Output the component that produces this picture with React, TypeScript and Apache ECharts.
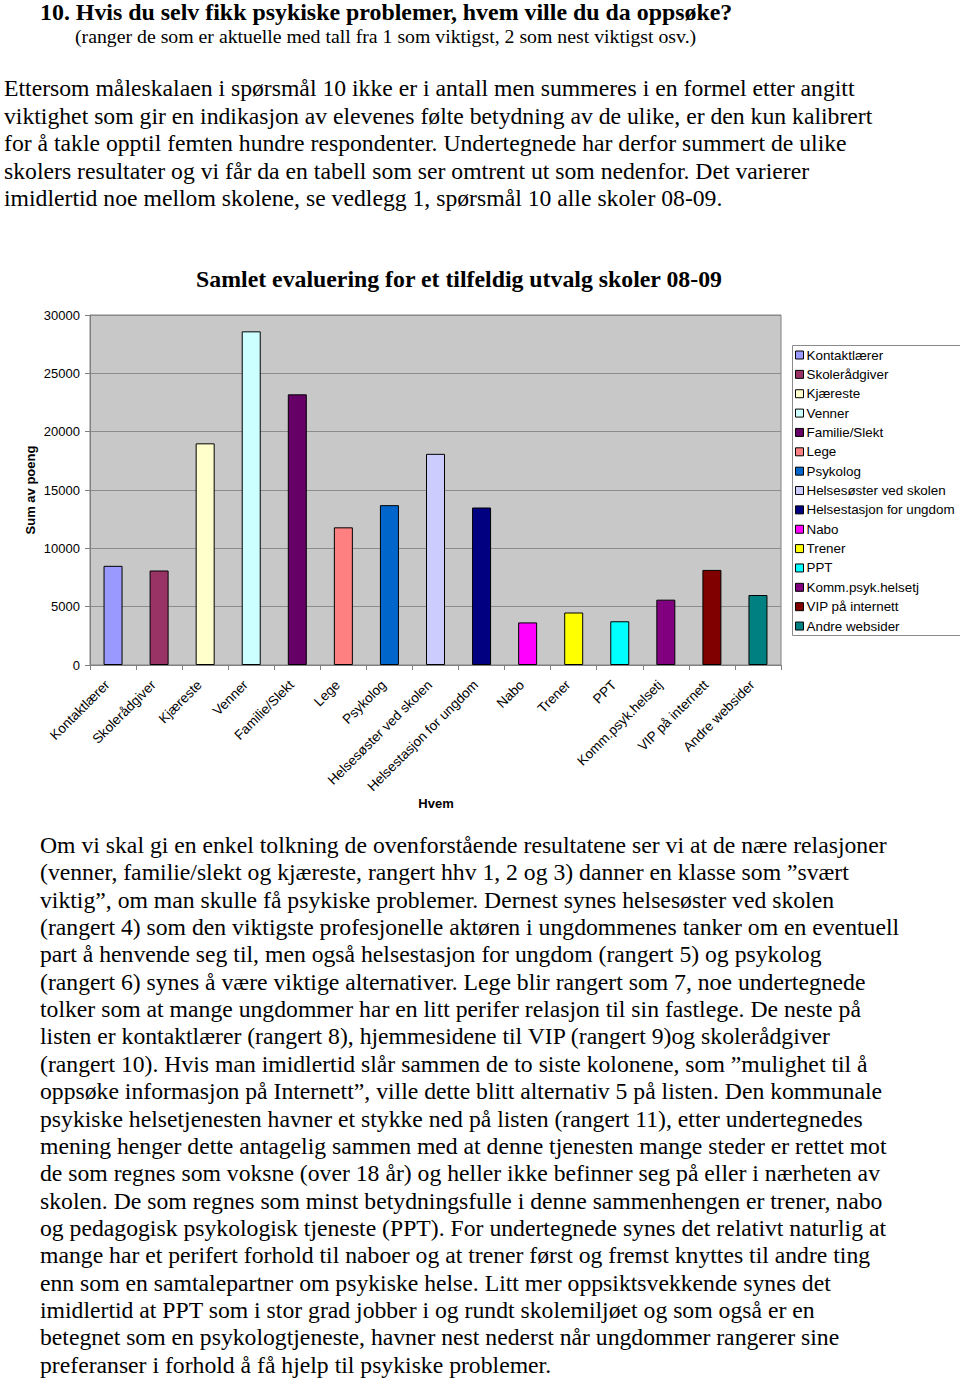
import React, { useEffect, useRef } from "react";
import * as echarts from "echarts";

const headingText = "10. Hvis du selv fikk psykiske problemer, hvem ville du da oppsøke?";
const subText = "(ranger de som er aktuelle med tall fra 1 som viktigst, 2 som nest viktigst osv.)";
const introLines = [
  "Ettersom måleskalaen i spørsmål 10 ikke er i antall men summeres i en formel etter angitt",
  "viktighet som gir en indikasjon av elevenes følte betydning av de ulike, er den kun kalibrert",
  "for å takle opptil femten hundre respondenter. Undertegnede har derfor summert de ulike",
  "skolers resultater og vi får da en tabell som ser omtrent ut som nedenfor. Det varierer",
  "imidlertid noe mellom skolene, se vedlegg 1, spørsmål 10 alle skoler 08-09.",
];
const commentLines = [
  "Om vi skal gi en enkel tolkning de ovenforstående resultatene ser vi at de nære relasjoner",
  "(venner, familie/slekt og kjæreste, rangert hhv 1, 2 og 3) danner en klasse som ”svært",
  "viktig”, om man skulle få psykiske problemer. Dernest synes helsesøster ved skolen",
  "(rangert 4) som den viktigste profesjonelle aktøren i ungdommenes tanker om en eventuell",
  "part å henvende seg til, men også helsestasjon for ungdom (rangert 5) og psykolog",
  "(rangert 6) synes å være viktige alternativer. Lege blir rangert som 7, noe undertegnede",
  "tolker som at mange ungdommer har en litt perifer relasjon til sin fastlege. De neste på",
  "listen er kontaktlærer (rangert 8), hjemmesidene til VIP (rangert 9)og skolerådgiver",
  "(rangert 10). Hvis man imidlertid slår sammen de to siste kolonene, som ”mulighet til å",
  "oppsøke informasjon på Internett”, ville dette blitt alternativ 5 på listen. Den kommunale",
  "psykiske helsetjenesten havner et stykke ned på listen (rangert 11), etter undertegnedes",
  "mening henger dette antagelig sammen med at denne tjenesten mange steder er rettet mot",
  "de som regnes som voksne (over 18 år) og heller ikke befinner seg på eller i nærheten av",
  "skolen. De som regnes som minst betydningsfulle i denne sammenhengen er trener, nabo",
  "og pedagogisk psykologisk tjeneste (PPT). For undertegnede synes det relativt naturlig at",
  "mange har et perifert forhold til naboer og at trener først og fremst knyttes til andre ting",
  "enn som en samtalepartner om psykiske helse. Litt mer oppsiktsvekkende synes det",
  "imidlertid at PPT som i stor grad jobber i og rundt skolemiljøet og som også er en",
  "betegnet som en psykologtjeneste, havner nest nederst når ungdommer rangerer sine",
  "preferanser i forhold å få hjelp til psykiske problemer.",
];

const chartTitle = "Samlet evaluering for et tilfeldig utvalg skoler 08-09";
const yAxisName = "Sum av poeng";
const xAxisName = "Hvem";

const categories = [
  "Kontaktlærer",
  "Skolerådgiver",
  "Kjæreste",
  "Venner",
  "Familie/Slekt",
  "Lege",
  "Psykolog",
  "Helsesøster ved skolen",
  "Helsestasjon for ungdom",
  "Nabo",
  "Trener",
  "PPT",
  "Komm.psyk.helsetj",
  "VIP på internett",
  "Andre websider",
];
const values = [8500, 8100, 19000, 28600, 23200, 11800, 13700, 18100, 13500, 3650, 4500, 3750, 5600, 8150, 6000];
const colors = [
  "#9999ff", "#993366", "#ffffcc", "#ccffff", "#660066", "#ff8080", "#0066cc", "#ccccff",
  "#000080", "#ff00ff", "#ffff00", "#00ffff", "#800080", "#800000", "#008080",
];
const yTicks = { min: 0, max: 30000, interval: 5000 };

const SERIF = '"Liberation Serif", "Times New Roman", serif';
const SANS = '"Liberation Sans", Arial, sans-serif';

export default function App() {
  const ref = useRef<HTMLDivElement>(null);
  useEffect(() => {
    if (!ref.current) return;
    const chart = echarts.init(ref.current, null, { renderer: "svg" });
    const textEl = (text: string, x: number, y: number, font: string, extra: any = {}) => ({
      type: "text",
      x,
      y,
      silent: true,
      ...extra,
      style: { text, font, fill: "#000", textVerticalAlign: "middle", textAlign: "left", ...(extra.style || {}) },
    });
    const graphics: any[] = [];
    graphics.push(textEl(headingText, 40, 12, `bold 23.9px ${SERIF}`));
    graphics.push(textEl(subText, 75, 36, `19.8px ${SERIF}`));
    introLines.forEach((l, i) => graphics.push(textEl(l, 4, 88 + i * 27.5, `23.7px ${SERIF}`)));
    commentLines.forEach((l, i) => graphics.push(textEl(l, 40, 845 + i * 27.35, `23.7px ${SERIF}`)));
    graphics.push(textEl(chartTitle, 459, 279, `bold 23.8px ${SERIF}`, { style: { textAlign: "center" } }));
    graphics.push(
      textEl(yAxisName, 30, 490, `bold 13px ${SANS}`, { rotation: Math.PI / 2, style: { textAlign: "center" } })
    );
    graphics.push(textEl(xAxisName, 436, 803, `bold 13px ${SANS}`, { style: { textAlign: "center" } }));
    graphics.push({
      type: "rect",
      z: -1,
      shape: { x: 792.5, y: 345.5, width: 170, height: 290 },
      style: { fill: "#fff", stroke: "#8a8a8a", lineWidth: 1 },
    });

    const series = categories.map((name, i) => ({
      name,
      type: "bar",
      stack: "all",
      barWidth: 19,
      data: values.map((v, j) => (j === i ? v : "-")),
      itemStyle: { color: colors[i], borderColor: "#000", borderWidth: 1 },
    }));

    chart.setOption({
      animation: false,
      backgroundColor: "#fff",
      graphic: graphics,
      grid: {
        left: 90,
        top: 315,
        width: 691,
        height: 350,
        show: true,
        backgroundColor: "#c8c8c8",
        borderColor: "#808080",
        borderWidth: 1,
      },
      legend: {
        orient: "vertical",
        left: 795,
        top: 348,
        padding: 0,
        icon: "rect",
        itemWidth: 8,
        itemHeight: 8,
        itemGap: 5.36,
        textStyle: { fontSize: 13.4, lineHeight: 14, color: "#000", fontFamily: SANS, padding: [0, 0, 0, -2] },
        itemStyle: { borderColor: "#000", borderWidth: 1 },
        data: categories,
      },
      xAxis: {
        type: "category",
        data: categories,
        axisLine: { lineStyle: { color: "#808080" } },
        axisTick: { show: true, length: 5, lineStyle: { color: "#808080" } },
        axisLabel: {
          rotate: 45,
          interval: 0,
          fontSize: 13.6,
          color: "#000",
          fontFamily: SANS,
          margin: 12,
          padding: [0, 8, 0, 0],
        },
      },
      yAxis: {
        type: "value",
        min: yTicks.min,
        max: yTicks.max,
        interval: yTicks.interval,
        axisLine: { show: true, lineStyle: { color: "#808080" } },
        axisTick: { show: true, length: 5, lineStyle: { color: "#808080" } },
        axisLabel: { fontSize: 13, color: "#000", fontFamily: SANS, margin: 10, formatter: (v: number) => String(v) },
        splitLine: { lineStyle: { color: "#8c8c8c" } },
      },
      series,
    });
    return () => chart.dispose();
  }, []);
  return (
    <div
      ref={ref}
      style={{ position: "absolute", left: 0, top: 0, width: 960, height: 1379, background: "#fff" }}
    />
  );
}
